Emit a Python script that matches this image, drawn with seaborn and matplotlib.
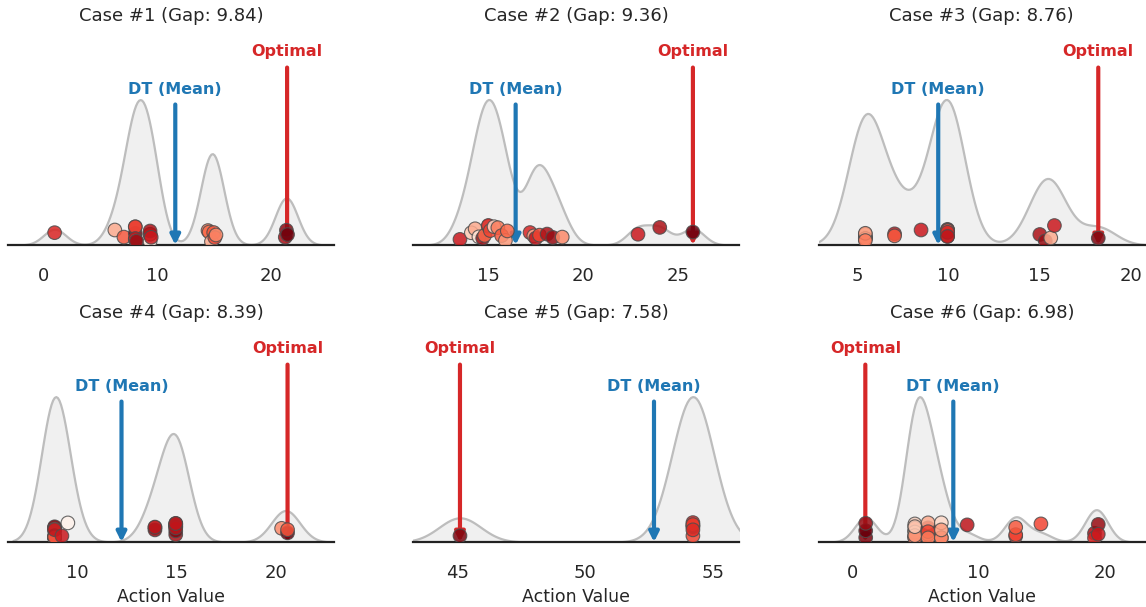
import numpy as np
import pandas as pd
import matplotlib.pyplot as plt
import seaborn as sns
from matplotlib.ticker import MaxNLocator

# sampled DT actions and their shade (0..1 on the Reds colormap) for each case
case1_actions = [1.0, 6.3, 7.1, 8.1, 8.1, 8.1, 8.1, 8.1, 8.2, 9.4, 9.4, 9.4, 9.4, 9.5,
                 14.5, 14.6, 14.8, 15.0, 15.1, 15.2, 21.3, 21.4, 21.5]
case1_shades = [0.7, 0.3, 0.55, 0.95, 0.4, 0.65, 0.2, 0.8, 0.9, 0.7, 0.08, 0.6, 0.85, 0.75,
                0.45, 0.5, 0.3, 0.55, 0.6, 0.4, 0.85, 0.92, 0.98]

case2_actions = [13.5, 14.1, 14.3, 14.5, 14.7, 14.8, 15.0, 15.0, 15.1, 15.3, 15.5, 15.7, 15.9, 16.0,
                 17.2, 17.4, 17.5, 17.7, 18.1, 18.4, 18.9, 22.9, 24.05, 25.8]
case2_shades = [0.75, 0.2, 0.3, 0.1, 0.9, 0.5, 0.25, 0.7, 0.6, 0.15, 0.45, 0.55, 0.35, 0.5,
                0.7, 0.3, 0.8, 0.6, 0.85, 0.9, 0.4, 0.75, 0.85, 1.0]

case3_actions = [5.45, 5.45, 5.45, 5.45, 5.45, 5.45, 5.45, 7.05, 7.05, 8.5,
                 9.95, 9.95, 9.95, 9.95, 9.95, 9.95, 9.95, 9.95, 15.0, 15.3, 15.6, 15.8, 18.2]
case3_shades = [0.3, 0.4, 0.1, 0.5, 0.2, 0.35, 0.45, 0.75, 0.55, 0.75,
                0.85, 0.9, 0.2, 0.4, 0.6, 0.45, 0.7, 0.8, 0.85, 0.9, 0.3, 0.75, 0.95]

case4_actions = [8.83, 8.83, 8.83, 8.83, 8.83, 8.83, 8.83, 8.83, 8.83, 8.83, 8.83, 8.83, 9.2, 9.5,
                 13.9, 13.9, 13.9, 14.95, 14.95, 14.95, 14.95, 14.95, 14.95, 14.95, 14.95, 14.95,
                 20.3, 20.6, 20.6]
case4_shades = [0.85, 0.4, 0.9, 0.35, 0.5, 0.6, 0.95, 0.45, 0.3, 0.7, 0.55, 0.8, 0.75, 0.02,
                0.35, 0.9, 0.8, 0.85, 0.8, 0.9, 0.75, 0.95, 0.7, 0.88, 0.82, 0.78,
                0.4, 1.0, 0.55]

case5_actions = [45.1, 54.2, 54.2, 54.2, 54.2, 54.2, 54.2]
case5_shades = [0.95, 0.6, 0.7, 0.65, 0.72, 0.62, 0.68]

case6_actions = [1.05, 1.05, 1.05, 4.95, 4.95, 4.95, 4.95, 4.95, 4.95, 4.95, 4.95, 4.95,
                 4.95, 4.95, 4.95, 4.95, 6.0, 6.0, 6.0, 6.0, 6.0, 6.0, 6.0,
                 7.05, 7.05, 7.05, 7.05, 9.1,
                 12.95, 12.95, 12.95, 14.95, 19.2, 19.2, 19.5, 19.5]
case6_shades = [0.95, 1.0, 0.9, 0.5, 0.1, 0.45, 0.2, 0.55, 0.3, 0.15, 0.4, 0.6,
                0.25, 0.5, 0.35, 0.2, 0.75, 0.1, 0.5, 0.8, 0.3, 0.6, 0.45,
                0.2, 0.45, 0.15, 0.35, 0.8,
                0.65, 0.6, 0.55, 0.6, 0.85, 0.7, 0.9, 0.75]

dt_means = [11.62, 16.44, 9.44, 12.21, 52.68, 8.00]
optimal = [21.46, 25.80, 18.20, 20.60, 45.10, 1.02]

actions = [case1_actions, case2_actions, case3_actions, case4_actions, case5_actions, case6_actions]
shades = [case1_shades, case2_shades, case3_shades, case4_shades, case5_shades, case6_shades]
bw_adjusts = [0.35, 0.35, 0.45, 0.35, 0.35, 0.35]

sns.set_style('white')
plt.rcParams['font.family'] = ['DejaVu Sans']
np.random.seed(3)

BLUE = '#1f77b4'
RED = '#d62728'
TXT = '#262626'

fig, axes = plt.subplots(2, 3, figsize=(11.46, 6.07), dpi=100)
fig.subplots_adjust(left=0.007, right=0.999, top=0.951, bottom=0.107, wspace=0.243, hspace=0.38)

for i, ax in enumerate(axes.flat):
    df = pd.DataFrame({'action': actions[i], 'shade': shades[i], 'row': 0})

    sns.kdeplot(x=df['action'], ax=ax, bw_adjust=bw_adjusts[i], fill=True, color='#bdbdbd',
                facecolor='#f0f0f0', edgecolor='#bdbdbd', linewidth=1.6, alpha=1)
    dens = ax.collections[0].get_paths()[0].vertices[:, 1].max()

    # arrows for the DT mean and the optimal action
    ax.annotate('', xy=(dt_means[i], 0), xytext=(dt_means[i], 0.966 * dens),
                arrowprops=dict(arrowstyle='-|>', color=BLUE, lw=3, mutation_scale=14,
                                shrinkA=0, shrinkB=0))
    ax.text(dt_means[i], 1.02 * dens, 'DT (Mean)', color=BLUE, fontweight='bold',
            fontsize=11.5, ha='center', va='bottom')
    ax.annotate('', xy=(optimal[i], 0), xytext=(optimal[i], 1.22 * dens),
                arrowprops=dict(arrowstyle='-|>', color=RED, lw=3, mutation_scale=14,
                                shrinkA=0, shrinkB=0))
    ax.text(optimal[i], 1.28 * dens, 'Optimal', color=RED, fontweight='bold',
            fontsize=11.5, ha='center', va='bottom')

    # sampled actions as a jittered strip near the baseline
    ax2 = ax.twinx()
    sns.stripplot(data=df, x='action', y='row', hue='shade', palette='Reds', hue_norm=(0, 1),
                  orient='h', jitter=0.4, size=9.8, linewidth=0.8, edgecolor='#4d4d4d',
                  alpha=0.85, legend=False, ax=ax2)
    ax2.set_ylim(-0.54, 9.6)
    ax2.axis('off')

    allx = actions[i] + [dt_means[i], optimal[i]]
    lo, hi = min(allx), max(allx)
    r = hi - lo
    ax.set_xlim(lo - 0.2 * r, hi + 0.2 * r)
    ax.set_ylim(0, 1.48 * dens)
    ax.xaxis.set_major_locator(MaxNLocator(nbins=4, steps=[1, 5, 10]))
    ax.set_yticks([])
    ax.set_ylabel('')
    ax.set_xlabel('Action Value' if i >= 3 else '', fontsize=12.5, color=TXT)
    ax.tick_params(axis='x', length=0, pad=16, labelsize=13, labelcolor=TXT)
    gap = abs(optimal[i] - dt_means[i])
    ax.set_title(f'Case #{i + 1} (Gap: {gap:.2f})', fontsize=13, color=TXT)
    sns.despine(ax=ax, left=True)
    ax.spines['bottom'].set_color('#222222')
    ax.spines['bottom'].set_linewidth(1.6)

plt.savefig('out.png', dpi=100)
